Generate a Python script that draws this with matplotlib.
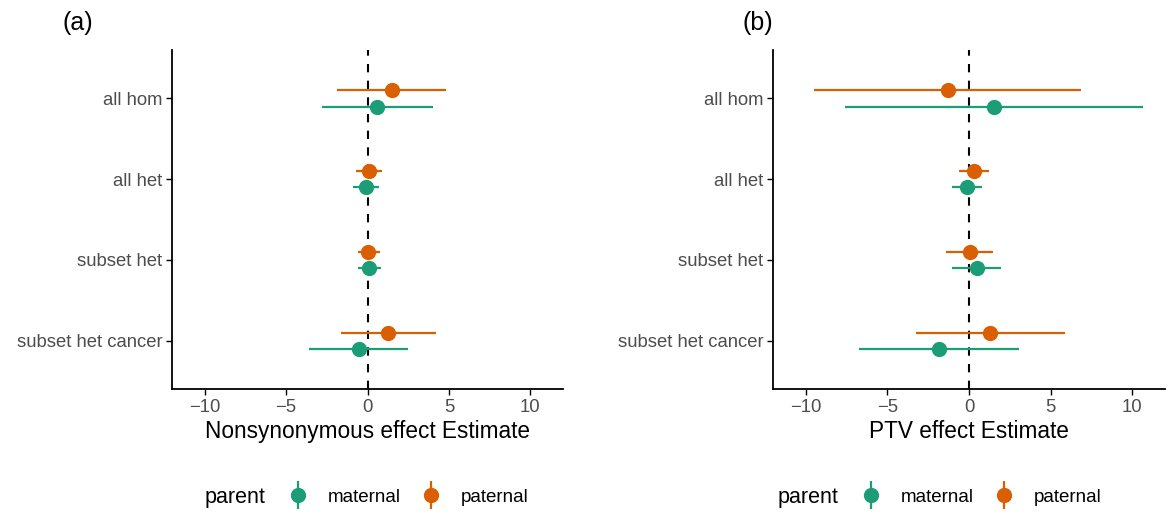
import matplotlib
matplotlib.use("Agg")
import matplotlib.pyplot as plt
from matplotlib.lines import Line2D
from matplotlib.legend_handler import HandlerTuple
import numpy as np

plt.rcParams['font.family'] = ['Liberation Sans', 'DejaVu Sans']

# categories, top to bottom
categories = ['all hom', 'all het', 'subset het', 'subset het cancer']

# panel (a): Nonsynonymous
ns_pat_est = [1.50, 0.10, 0.04, 1.27]
ns_pat_lo = [-1.88, -0.70, -0.61, -1.64]
ns_pat_hi = [4.84, 0.89, 0.74, 4.19]
ns_mat_est = [0.58, -0.08, 0.10, -0.55]
ns_mat_lo = [-2.81, -0.88, -0.57, -3.57]
ns_mat_hi = [4.00, 0.72, 0.82, 2.49]

# panel (b): PTV
ptv_pat_est = [-1.27, 0.31, 0.04, 1.27]
ptv_pat_lo = [-9.46, -0.62, -1.40, -3.26]
ptv_pat_hi = [6.87, 1.21, 1.48, 5.85]
ptv_mat_est = [1.54, -0.10, 0.47, -1.85]
ptv_mat_lo = [-7.57, -1.05, -1.07, -6.75]
ptv_mat_hi = [10.67, 0.82, 1.97, 3.06]

green = '#1B9E77'
orange = '#D95F02'

W, H = 1169, 515
fig = plt.figure(figsize=(W / 100, H / 100), dpi=100)
ax_a = fig.add_axes([172 / W, 1 - 389 / H, 391 / W, 339 / H])
ax_b = fig.add_axes([773 / W, 1 - 389 / H, 392 / W, 339 / H])

ypos = np.arange(len(categories))[::-1] + 1.0


def draw(ax, pat, mat, xlabel):
    ax.axvline(0, color='black', ls=(0, (4, 4)), lw=1.5, zorder=1)
    for (est, lo, hi), col, off in [(mat, green, -0.1), (pat, orange, 0.1)]:
        est = np.array(est)
        y = ypos + off
        ax.hlines(y, lo, hi, color=col, lw=1.6, zorder=2)
        ax.plot(est, y, 'o', color=col, ms=11, mec='none', zorder=3)
    ax.set_xlim(-12, 12)
    ax.set_ylim(0.4, 4.6)
    ax.set_xticks([-10, -5, 0, 5, 10])
    ax.set_xticklabels(['\u221210', '\u22125', '0', '5', '10'])
    ax.set_yticks(ypos)
    ax.set_yticklabels(categories)
    ax.tick_params(labelsize=13.3, labelcolor='#4d4d4d', color='black',
                   length=4, width=1, pad=3)
    for s in ['top', 'right']:
        ax.spines[s].set_visible(False)
    for s in ['left', 'bottom']:
        ax.spines[s].set_linewidth(1.3)
    ax.set_xlabel(xlabel, fontsize=16.3, labelpad=3)


draw(ax_a, (ns_pat_est, ns_pat_lo, ns_pat_hi),
     (ns_mat_est, ns_mat_lo, ns_mat_hi), 'Nonsynonymous effect Estimate')
draw(ax_b, (ptv_pat_est, ptv_pat_lo, ptv_pat_hi),
     (ptv_mat_est, ptv_mat_lo, ptv_mat_hi), 'PTV effect Estimate')

fig.text(63 / W, 1 - 23 / H, '(a)', fontsize=18, ha='left', va='center')
fig.text(742 / W, 1 - 23 / H, '(b)', fontsize=18, ha='left', va='center')


def key(col):
    return (Line2D([], [], color=col, marker='|', ms=20, mew=1.6, ls='none'),
            Line2D([], [], color=col, marker='o', ms=11, mec='none', ls='none'))


for x0 in [205, 778]:
    fig.text(x0 / W, 1 - 497 / H, 'parent', fontsize=15.5, ha='left', va='center')
    fig.legend([key(green), key(orange)], ['maternal', 'paternal'],
               handler_map={tuple: HandlerTuple(ndivide=1, pad=0)},
               loc='center left', bbox_to_anchor=((x0 + 82) / W, 1 - 497 / H),
               ncol=2, frameon=False, fontsize=13.5, handlelength=1.2,
               handletextpad=1.0, columnspacing=1.0, borderaxespad=0,
               borderpad=0)

fig.savefig('out.png', dpi=100)
